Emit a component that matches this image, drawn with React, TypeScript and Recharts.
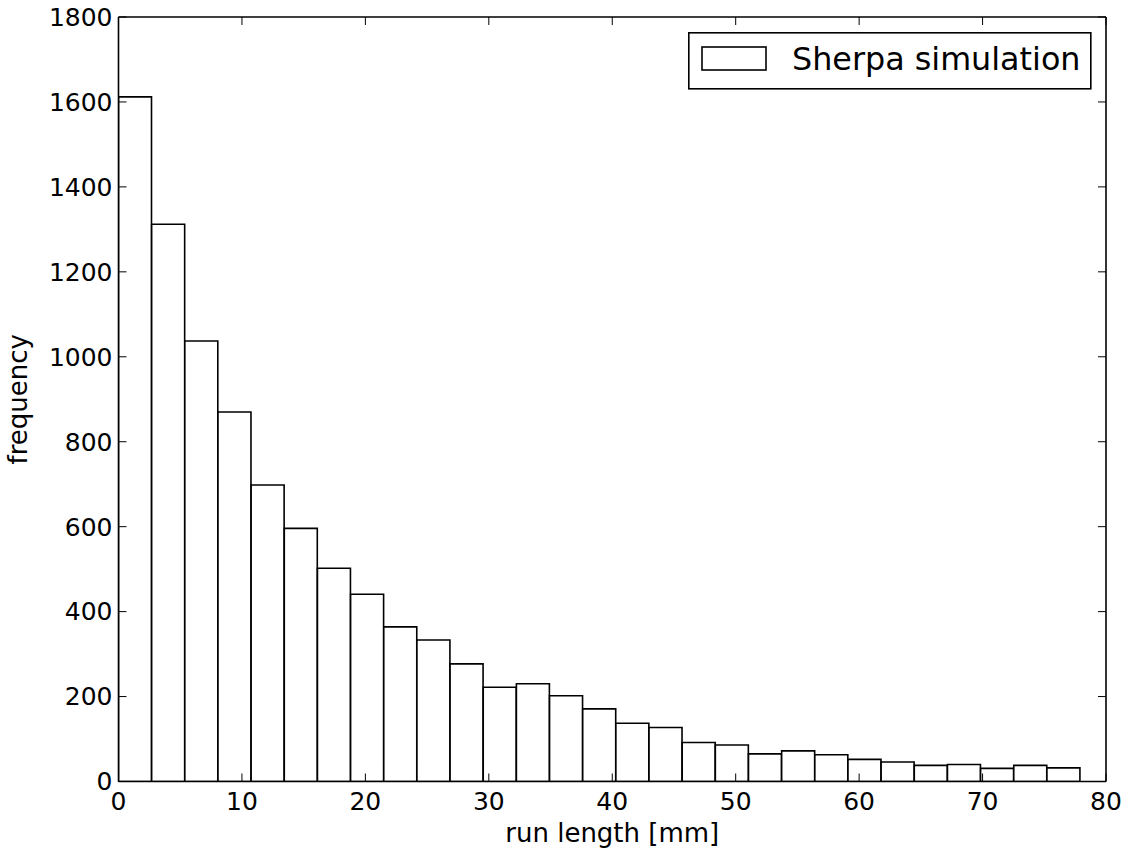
import React from 'react';
import { ComposedChart, Bar, XAxis, YAxis, Legend, Label } from 'recharts';

// Histogram of run lengths (29 equal bins from 0 to ~77.9 mm)
const binCount = 29;
const dataMax = 77.9;
const binWidth = dataMax / binCount;
const frequencies = [
  1612, 1312, 1037, 870, 698, 596, 502, 441, 364, 333,
  277, 222, 230, 202, 171, 137, 127, 92, 86, 65,
  72, 63, 52, 46, 38, 40, 31, 38, 32,
];
const binCenters = frequencies.map((_, i) => (i + 0.5) * binWidth);
const xTicks = [0, 10, 20, 30, 40, 50, 60, 70, 80];
const yTicks = [0, 200, 400, 600, 800, 1000, 1200, 1400, 1600, 1800];
const seriesName = 'Sherpa simulation';
const xLabel = 'run length [mm]';
const yLabel = 'frequency';

const data = frequencies.map((f, i) => ({ x: binCenters[i], frequency: f }));

const FONT = 'DejaVu Sans';
const TICK_LEN = 8;
const LINE_W = 1.6;
const axisLineStyle = { stroke: '#000', strokeWidth: LINE_W };

const BottomTick = (props: any) => {
  const { x, y, payload } = props;
  return (
    <g>
      <line x1={x} x2={x} y1={y} y2={y - TICK_LEN} stroke="#000" strokeWidth={1} />
      <text x={x} y={y + 28.5} textAnchor="middle" fill="#000" fontSize={25} fontFamily={FONT}>
        {payload.value}
      </text>
    </g>
  );
};

const LeftTick = (props: any) => {
  const { x, y, payload } = props;
  return (
    <g>
      <line x1={x} x2={x + TICK_LEN} y1={y} y2={y} stroke="#000" strokeWidth={1} />
      <text x={x - 6} y={y} dy="0.355em" textAnchor="end" fill="#000" fontSize={25} fontFamily={FONT}>
        {payload.value}
      </text>
    </g>
  );
};

const TopTick = (props: any) => {
  const { x, y } = props;
  return <line x1={x} x2={x} y1={y} y2={y + TICK_LEN} stroke="#000" strokeWidth={1} />;
};

const RightTick = (props: any) => {
  const { x, y } = props;
  return <line x1={x} x2={x - TICK_LEN} y1={y} y2={y} stroke="#000" strokeWidth={1} />;
};

const XLabelContent = (props: any) => {
  const vb = props.viewBox || {};
  return (
    <text
      x={vb.x + vb.width / 2}
      y={vb.y + 60.5}
      textAnchor="middle"
      fill="#000"
      fontSize={26}
      fontFamily={FONT}
    >
      {xLabel}
    </text>
  );
};

const YLabelContent = (props: any) => {
  const vb = props.viewBox || {};
  const x = vb.x + 27;
  const y = vb.y + vb.height / 2;
  return (
    <text
      x={x}
      y={y}
      transform={`rotate(-90, ${x}, ${y})`}
      textAnchor="middle"
      fill="#000"
      fontSize={26}
      fontFamily={FONT}
    >
      {yLabel}
    </text>
  );
};

const LegendContent = () => (
  <svg width={404} height={58} style={{ display: 'block' }}>
    <rect x={0.8} y={0.8} width={402} height={56} fill="#fff" stroke="#000" strokeWidth={LINE_W} />
    <rect x={14} y={15} width={64} height={23} fill="#fff" stroke="#000" strokeWidth={LINE_W} />
    <text x={104} y={38} fill="#000" fontSize={31.8} fontFamily={FONT}>
      {seriesName}
    </text>
  </svg>
);

export default function App() {
  return (
    <div
      style={{
        position: 'absolute',
        left: 0,
        top: 0,
        width: 1134,
        height: 860,
        background: '#fff',
        fontFamily: FONT,
      }}
    >
      <ComposedChart
        width={1134}
        height={860}
        data={data}
        margin={{ top: 16, right: 27, bottom: 0, left: 0 }}
        barCategoryGap={0}
        barGap={0}
      >
        <XAxis
          dataKey="x"
          type="number"
          domain={[0, 80]}
          ticks={xTicks}
          interval={0}
          allowDataOverflow
          height={78.5}
          axisLine={axisLineStyle}
          tickLine={false}
          tickSize={0}
          tickMargin={0}
          tick={BottomTick}
        >
          <Label content={XLabelContent} />
        </XAxis>
        <XAxis
          xAxisId="top"
          dataKey="x"
          orientation="top"
          type="number"
          domain={[0, 80]}
          ticks={xTicks}
          interval={0}
          allowDataOverflow
          height={1}
          axisLine={axisLineStyle}
          tickLine={false}
          tickSize={0}
          tickMargin={0}
          tick={TopTick}
        />
        <YAxis
          type="number"
          domain={[0, 1800]}
          ticks={yTicks}
          interval={0}
          allowDataOverflow
          width={118.5}
          axisLine={axisLineStyle}
          tickLine={false}
          tickSize={0}
          tickMargin={0}
          tick={LeftTick}
        >
          <Label content={YLabelContent} />
        </YAxis>
        <YAxis
          yAxisId="right"
          orientation="right"
          type="number"
          domain={[0, 1800]}
          ticks={yTicks}
          interval={0}
          allowDataOverflow
          width={1}
          axisLine={axisLineStyle}
          tickLine={false}
          tickSize={0}
          tickMargin={0}
          tick={RightTick}
        />
        <Legend
          layout="horizontal"
          verticalAlign="middle"
          align="center"
          content={LegendContent}
          wrapperStyle={{ position: 'absolute', left: 688, top: 32, width: 404, height: 58 }}
        />
        <Bar
          dataKey="frequency"
          name={seriesName}
          fill="#fff"
          stroke="#000"
          strokeWidth={LINE_W}
          isAnimationActive={false}
        />
      </ComposedChart>
    </div>
  );
}
